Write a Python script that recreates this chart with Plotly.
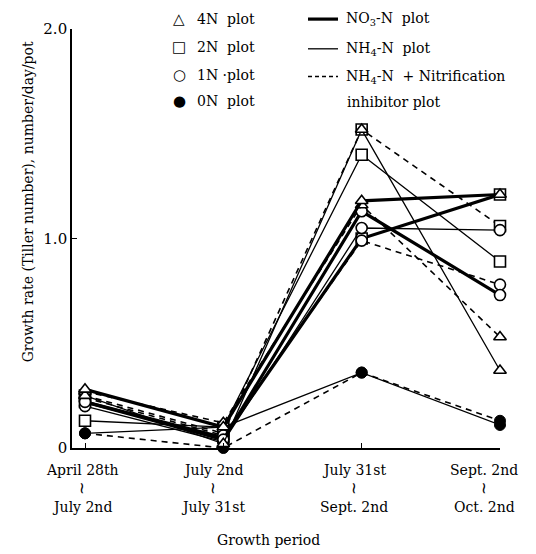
import plotly.graph_objects as go

# ---------------- data ----------------
period_from = ["April 28th", "July 2nd", "July 31st", "Sept. 2nd"]
period_to = ["July 2nd", "July 31st", "Sept. 2nd", "Oct. 2nd"]
y_ticks = [0, 1.0, 2.0]
y_tick_labels = ["0", "1.0", "2.0"]

# 4N plot (triangle)
n4_no3 = [0.28, 0.10, 1.18, 1.21]
n4_nh4 = [0.25, 0.02, 1.52, 0.37]
n4_nh4_inh = [0.27, 0.12, 1.16, 0.53]
# 2N plot (square)
n2_no3 = [0.22, 0.05, 1.00, 1.21]
n2_nh4 = [0.13, 0.10, 1.40, 0.89]
n2_nh4_inh = [0.25, 0.07, 1.52, 1.06]
# 1N plot (open circle)
n1_no3 = [0.22, 0.04, 1.13, 0.73]
n1_nh4 = [0.20, 0.03, 1.05, 1.04]
n1_nh4_inh = [0.24, 0.06, 0.99, 0.78]
# 0N plot (filled circle)
n0_solid = [0.07, 0.10, 0.36, 0.11]
n0_dashed = [0.07, 0.00, 0.36, 0.13]

# ---------------- styling ----------------
FONT = "DejaVu Serif"
FS = 14
xs = list(range(len(period_from)))

LINE_STYLE = {
    "no3": dict(width=3.2, dash="solid"),
    "nh4": dict(width=1.3, dash="solid"),
    "inh": dict(width=1.6, dash="6px,5px"),
}
MARKERS = {
    "4N": dict(symbol="triangle-up", color="white", size=11, line=dict(color="black", width=1.6)),
    "2N": dict(symbol="square", color="white", size=11, line=dict(color="black", width=1.6)),
    "1N": dict(symbol="circle", color="white", size=11, line=dict(color="black", width=1.6)),
    "0N": dict(symbol="circle", color="black", size=11, line=dict(color="black", width=1)),
}

series = [
    (n0_dashed, "0N", "inh"),
    (n0_solid, "0N", "nh4"),
    (n2_nh4_inh, "2N", "inh"),
    (n2_nh4, "2N", "nh4"),
    (n2_no3, "2N", "no3"),
    (n1_nh4_inh, "1N", "inh"),
    (n1_nh4, "1N", "nh4"),
    (n1_no3, "1N", "no3"),
    (n4_nh4_inh, "4N", "inh"),
    (n4_nh4, "4N", "nh4"),
    (n4_no3, "4N", "no3"),
]

fig = go.Figure()
for vals, lvl, form in series:
    fig.add_trace(go.Scatter(
        x=xs, y=vals, mode="lines+markers",
        line=dict(color="black", **LINE_STYLE[form]),
        marker=MARKERS[lvl], cliponaxis=False, showlegend=False,
        hoverinfo="skip",
    ))

# plot geometry (page pixels; the page body has an 8px margin)
OFF = 8
W, H = 536 - OFF, 554 - OFF
ML, MR, MT, MB = 72 - OFF, 36, 25 - OFF, 106
PW, PH = W - ML - MR, H - MT - MB


def px(xp):
    return (xp - OFF - ML) / PW


def py(yp):
    return (H - MB - (yp - OFF)) / PH


fig.update_layout(
    width=W, height=H,
    margin=dict(l=ML, r=MR, t=MT, b=MB),
    paper_bgcolor="white", plot_bgcolor="white",
    font=dict(family=FONT, color="black", size=FS),
    xaxis=dict(
        range=[-0.094, 3.0], tickvals=xs, showticklabels=False,
        showline=True, linecolor="black", linewidth=1.6,
        ticks="inside", ticklen=5, tickcolor="black",
        showgrid=False, zeroline=False,
    ),
    yaxis=dict(
        range=[0, 2.0], tickvals=y_ticks, ticktext=y_tick_labels,
        showline=True, linecolor="black", linewidth=1.6,
        ticks="inside", ticklen=5, tickcolor="black",
        showgrid=False, zeroline=False, tickfont=dict(size=FS + 1, family=FONT),
    ),
)

ann = []


def text(t, xp, yp, xanchor="center", size=FS, family=FONT, angle=0):
    ann.append(dict(text=t, x=px(xp), y=py(yp), xref="paper", yref="paper",
                    xanchor=xanchor, yanchor="middle", textangle=angle,
                    showarrow=False, font=dict(size=size, family=family, color="black")))


# x tick labels (period ranges), placed under each category
label_cx = [82, 213, 354, 484]
for i, (a, b) in enumerate(zip(period_from, period_to)):
    text(a, label_cx[i], 470)
    text("~", label_cx[i], 488, size=16, family="DejaVu Sans", angle=90)
    text(b, label_cx[i], 508)

# axis titles
text("Growth rate (Tiller number), number/day/pot", 28, 200, angle=-90)
text("Growth period", 268, 541)

# legend: markers + labels
leg_left = [("△", "4N  plot", 15), ("□", "2N  plot", 43), ("○", "1N ·plot", 71), ("●", "0N  plot", 98)]
for sym, lab, yy in leg_left:
    text(sym, 179, yy, size=15, family="DejaVu Sans")
    text(lab, 195, yy, xanchor="left")

leg_right = [("no3", "NO<sub>3</sub>-N  plot", 15),
             ("nh4", "NH<sub>4</sub>-N  plot", 45),
             ("inh", "NH<sub>4</sub>-N  + Nitrification", 73)]
shapes = []
for form, lab, yy in leg_right:
    st = LINE_STYLE[form]
    shapes.append(dict(type="line", xref="paper", yref="paper",
                       x0=px(308), x1=px(338), y0=py(yy), y1=py(yy),
                       line=dict(color="black", width=st["width"],
                                 dash="4px,3px" if form == "inh" else "solid")))
    text(lab, 344, yy, xanchor="left")
text("inhibitor plot", 345, 99, xanchor="left")

fig.update_layout(annotations=ann, shapes=shapes)
fig.write_html("out.html")
